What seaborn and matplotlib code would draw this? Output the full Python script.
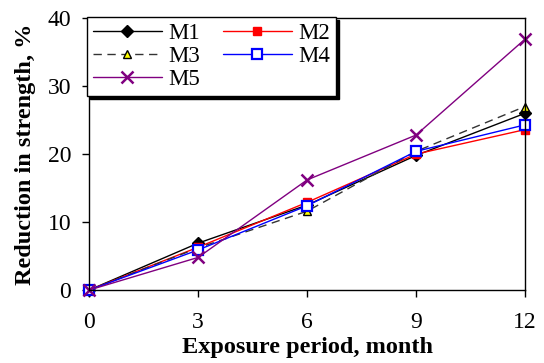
import matplotlib
matplotlib.use("Agg")
import matplotlib.pyplot as plt
import numpy as np
import pandas as pd
import seaborn as sns

# Exposure period (months) and reduction in strength (%) per mix
MONTHS = [0, 3, 6, 9, 12]
M1 = [0, 6.9, 12.5, 19.8, 26.0]
M2 = [0, 6.3, 12.9, 20.0, 23.6]
M3 = [0, 6.2, 11.6, 20.4, 27.0]
M4 = [0, 5.9, 12.4, 20.4, 24.3]
M5 = [0, 4.8, 16.2, 22.8, 36.9]

SERIES = {"M1": M1, "M2": M2, "M3": M3, "M4": M4, "M5": M5}

# Line/marker styles per mix
STYLES = {
    "M1": dict(color="black", marker="D", markersize=6, mfc="black", mec="black", ls="-"),
    "M2": dict(color="red", marker="s", markersize=6, mfc="red", mec="red", ls="-"),
    "M3": dict(color="#333333", marker="^", markersize=6, mfc="yellow", mec="black", ls=(0, (6, 4))),
    "M4": dict(color="blue", marker="s", markersize=7, mfc="white", mec="blue", mew=1.6, ls="-"),
    "M5": dict(color="purple", marker="x", markersize=9, mfc="purple", mec="purple", mew=1.8, ls="-"),
}


def main() -> None:
    sns.set_style("white")
    plt.rcParams["font.family"] = ["Liberation Serif", "DejaVu Serif"]
    plt.rcParams["text.color"] = "black"
    plt.rcParams["axes.labelcolor"] = "black"

    df = pd.DataFrame(
        [{"month": m, "value": v, "mix": k} for k, vals in SERIES.items() for m, v in zip(MONTHS, vals)]
    )

    fig, ax = plt.subplots(figsize=(5.44, 3.63), dpi=100)
    fig.subplots_adjust(left=0.164, right=0.965, top=0.950, bottom=0.201)

    for mix in SERIES:
        st = STYLES[mix]
        sub = df[df["mix"] == mix]
        sns.lineplot(
            data=sub, x="month", y="value", ax=ax, label=mix,
            color=st["color"], linestyle=st["ls"], linewidth=1.0,
            marker=st["marker"], markersize=st["markersize"],
            markerfacecolor=st["mfc"], markeredgecolor=st["mec"],
            markeredgewidth=st.get("mew", 1.0),
        )

    ax.set_xlim(0, 12)
    ax.set_ylim(0, 40)
    ax.set_xticks(MONTHS)
    ax.set_yticks([0, 10, 20, 30, 40])
    ax.tick_params(axis="both", which="major", labelsize=17, direction="out",
                   length=5, width=1, colors="black", bottom=True, left=True)
    ax.tick_params(axis="x", pad=11)
    ax.tick_params(axis="y", pad=8)
    ax.set_xlabel("Exposure period, month", fontsize=17.5, fontweight="bold", labelpad=3)
    ax.set_ylabel("Reduction in strength, %", fontsize=17.5, fontweight="bold", labelpad=8)
    for sp in ax.spines.values():
        sp.set_color("black")
        sp.set_linewidth(1.0)
    for mk in ax.lines:
        mk.set_clip_on(False)

    handles, labels = ax.get_legend_handles_labels()
    order = [0, 2, 4, 1, 3]
    leg = ax.legend(
        [handles[i] for i in order], [labels[i] for i in order],
        ncol=2, loc="upper left", bbox_to_anchor=(-0.005, 1.005),
        fontsize=16.5, frameon=True, fancybox=False, shadow={"color": "black", "alpha": 1},
        handlelength=3.0, handletextpad=0.3, columnspacing=1.0,
        labelspacing=0.1, borderpad=0.25, borderaxespad=0,
    )
    leg.get_frame().set_edgecolor("black")
    leg.get_frame().set_linewidth(1.0)
    leg.get_frame().set_alpha(1)

    fig.savefig("out.png", dpi=100)
    plt.close(fig)


if __name__ == "__main__":
    main()
